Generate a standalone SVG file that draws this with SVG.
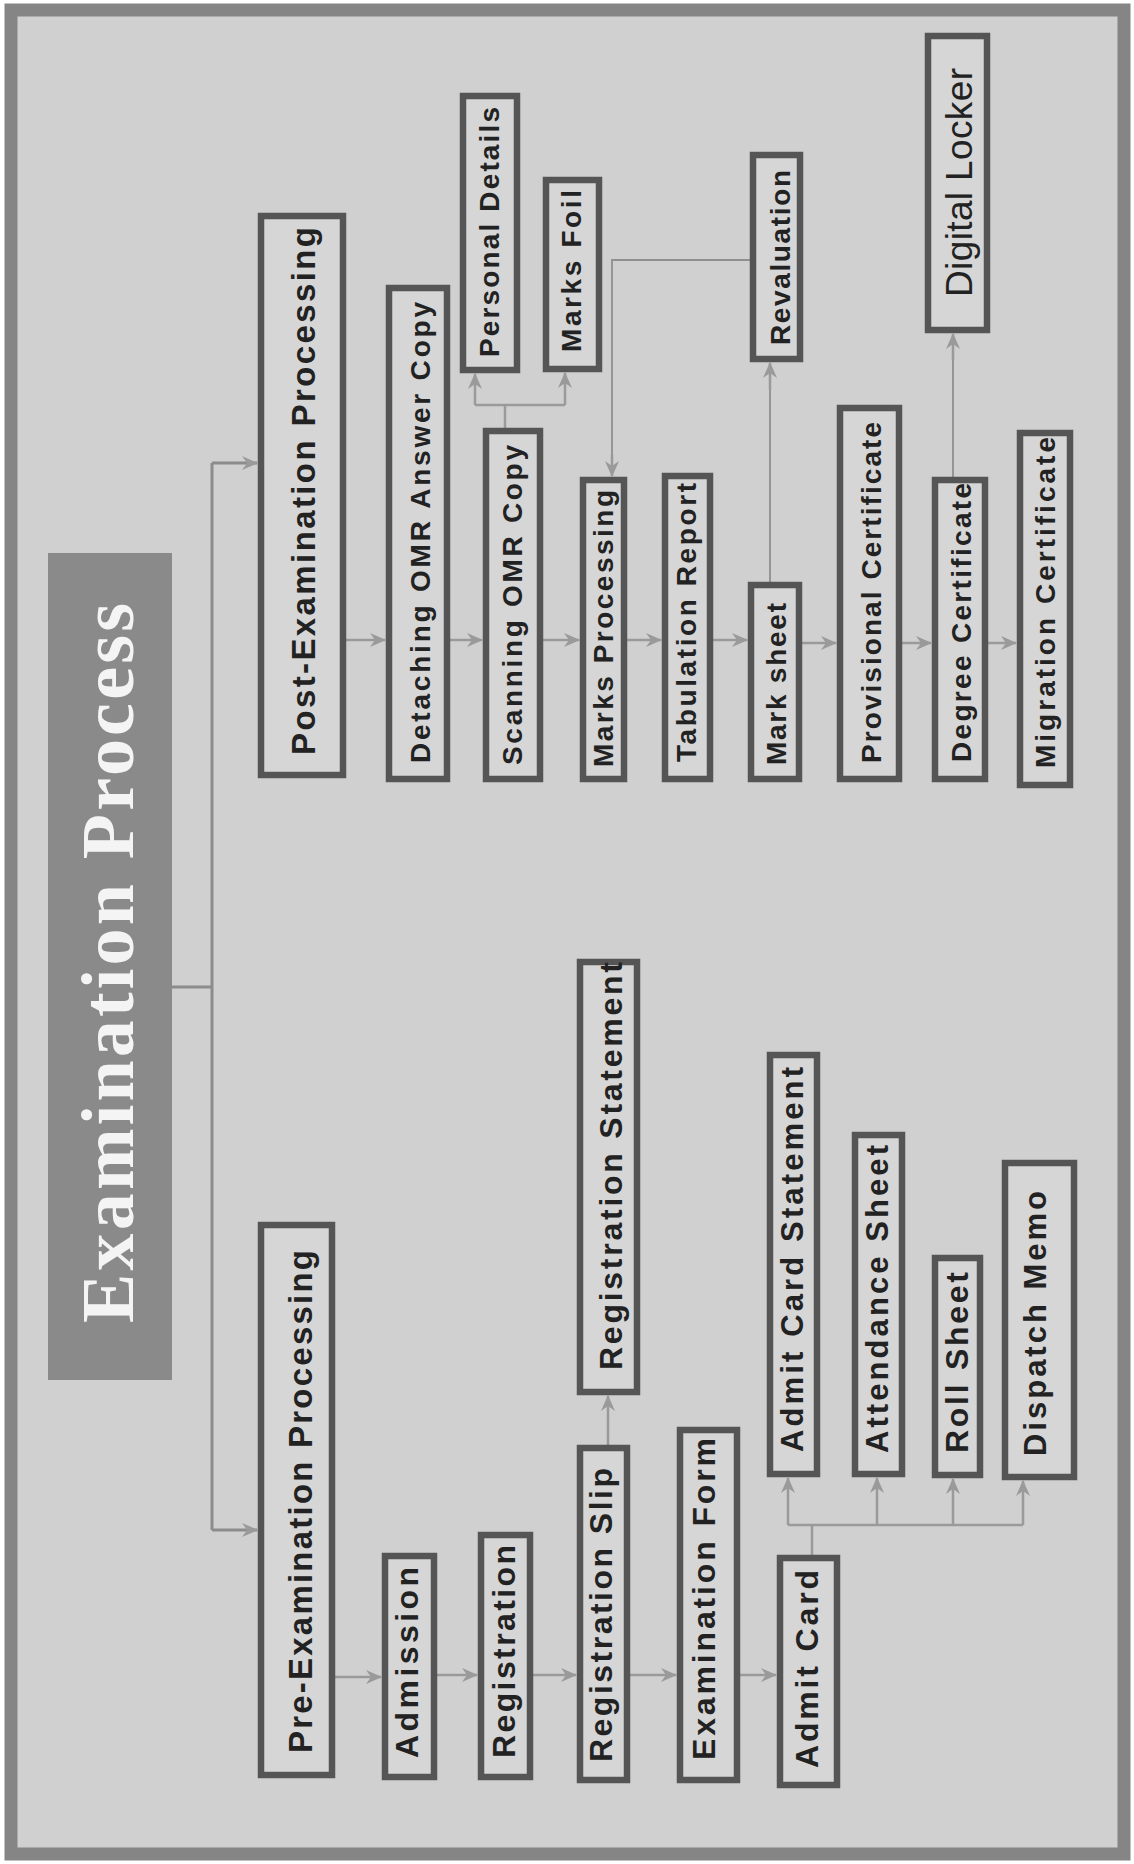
<svg xmlns="http://www.w3.org/2000/svg" width="1134" height="1864" viewBox="0 0 1134 1864">
<style>
.box{fill:#d6d6d6;stroke:#555555;stroke-width:6.5}
.t{font-family:"Liberation Sans",Arial,sans-serif;font-weight:bold;fill:#222222}
.tr{font-family:"Liberation Sans",Arial,sans-serif;font-weight:normal;fill:#222222}
.c{fill:none;stroke:#9a9a9a;stroke-width:2.5}
.a{marker-end:url(#ah)}
.m{fill:none;stroke:#8c8c8c;stroke-width:3}
.thin{fill:none;stroke:#8f8f8f;stroke-width:1.8}
</style>
<defs>
<marker id="ah" markerUnits="userSpaceOnUse" viewBox="0 0 16 14" markerWidth="16" markerHeight="14" refX="15" refY="7" orient="auto">
<path d="M0,0 L16,7 L0,14 L5,7 z" fill="#9a9a9a"/>
</marker>
</defs>
<rect width="1134" height="1864" fill="#ffffff"/>
<rect x="11" y="10" width="1113" height="1844" fill="#d0d0d0" stroke="#858585" stroke-width="13"/>

<g id="title">
<rect x="48" y="553" width="124" height="827" fill="#8a8a8a"/>
<text transform="translate(133,1323) rotate(-90)" font-family="'Liberation Serif',Times,serif" font-weight="bold" font-size="74" fill="#f4f4f4" textLength="720" lengthAdjust="spacing">Examination Process</text>
</g>

<g id="connectors">
<path class="m" d="M172,987 H212 M212,463 V1530"/>
<path class="m a" d="M212,463 H257"/>
<path class="m a" d="M212,1530 H257"/>
<path class="c a" d="M335,1677 H381"/>
<path class="c a" d="M437,1675 H477"/>
<path class="c a" d="M533,1675 H576"/>
<path class="c a" d="M608,1445 V1396"/>
<path class="c a" d="M630,1675 H676"/>
<path class="c a" d="M740,1675 H776"/>
<path class="c" d="M812,1555 V1525 M788,1525 H1023"/>
<path class="c a" d="M788,1525 V1478"/>
<path class="c a" d="M877,1525 V1478"/>
<path class="c a" d="M953,1525 V1479"/>
<path class="c a" d="M1023,1525 V1481"/>
<path class="c a" d="M346,640 H385"/>
<path class="c a" d="M450,640 H482"/>
<path class="c a" d="M543,640 H579"/>
<path class="c" d="M505,428 V405 M475,405 H565"/>
<path class="c a" d="M475,405 V374"/>
<path class="c a" d="M565,405 V373"/>
<path class="c a" d="M627,640 H661"/>
<path class="c a" d="M713,640 H747"/>
<path class="thin" d="M770,582 V372"/>
<path class="c a" d="M770,390 V363"/>
<path class="thin" d="M752,260 H612 V460"/>
<path class="c a" d="M612,455 V476"/>
<path class="c a" d="M802,643 H836"/>
<path class="c a" d="M902,643 H931"/>
<path class="thin" d="M953,477 V345"/>
<path class="c a" d="M953,360 V334"/>
<path class="c a" d="M988,643 H1016"/>
</g>

<g id="n-pre"><rect class="box" x="261" y="1225" width="71" height="550"/><text class="t" transform="translate(312,1753) rotate(-90)" font-size="33" textLength="503" lengthAdjust="spacing">Pre-Examination Processing</text></g>
<g id="n-admission"><rect class="box" x="385" y="1556" width="49" height="221"/><text class="t" transform="translate(418,1758) rotate(-90)" font-size="32" textLength="191" lengthAdjust="spacing">Admission</text></g>
<g id="n-registration"><rect class="box" x="481" y="1535" width="49" height="242"/><text class="t" transform="translate(515,1758) rotate(-90)" font-size="32" textLength="213" lengthAdjust="spacing">Registration</text></g>
<g id="n-regslip"><rect class="box" x="580" y="1448" width="47" height="332"/><text class="t" transform="translate(612,1762) rotate(-90)" font-size="32" textLength="294" lengthAdjust="spacing">Registration Slip</text></g>
<g id="n-regstatement"><rect class="box" x="580" y="962" width="57" height="430"/><text class="t" transform="translate(622,1370) rotate(-90)" font-size="32" textLength="408" lengthAdjust="spacing">Registration Statement</text></g>
<g id="n-examform"><rect class="box" x="680" y="1430" width="57" height="350"/><text class="t" transform="translate(715,1760) rotate(-90)" font-size="32" textLength="322" lengthAdjust="spacing">Examination Form</text></g>
<g id="n-admitcard"><rect class="box" x="780" y="1558" width="57" height="227"/><text class="t" transform="translate(818,1768) rotate(-90)" font-size="32" textLength="198" lengthAdjust="spacing">Admit Card</text></g>
<g id="n-admitstatement"><rect class="box" x="770" y="1055" width="47" height="419"/><text class="t" transform="translate(803,1452) rotate(-90)" font-size="31" textLength="385" lengthAdjust="spacing">Admit Card Statement</text></g>
<g id="n-attendance"><rect class="box" x="855" y="1135" width="47" height="339"/><text class="t" transform="translate(888,1453) rotate(-90)" font-size="31" textLength="308" lengthAdjust="spacing">Attendance Sheet</text></g>
<g id="n-roll"><rect class="box" x="935" y="1258" width="45" height="217"/><text class="t" transform="translate(968,1453) rotate(-90)" font-size="32" textLength="181" lengthAdjust="spacing">Roll Sheet</text></g>
<g id="n-dispatch"><rect class="box" x="1005" y="1163" width="69" height="314"/><text class="t" transform="translate(1046,1456) rotate(-90)" font-size="31" textLength="265" lengthAdjust="spacing">Dispatch Memo</text></g>

<g id="n-post"><rect class="box" x="261" y="216" width="82" height="559"/><text class="t" transform="translate(315,755) rotate(-90)" font-size="33" textLength="528" lengthAdjust="spacing">Post-Examination Processing</text></g>
<g id="n-detaching"><rect class="box" x="389" y="288" width="58" height="491"/><text class="t" transform="translate(430,763) rotate(-90)" font-size="28" textLength="461" lengthAdjust="spacing">Detaching OMR Answer Copy</text></g>
<g id="n-scanning"><rect class="box" x="486" y="431" width="54" height="348"/><text class="t" transform="translate(522,765) rotate(-90)" font-size="28" textLength="320" lengthAdjust="spacing">Scanning OMR Copy</text></g>
<g id="n-personal"><rect class="box" x="463" y="96" width="54" height="274"/><text class="t" transform="translate(499,357) rotate(-90)" font-size="28" textLength="250" lengthAdjust="spacing">Personal Details</text></g>
<g id="n-marksfoil"><rect class="box" x="546" y="180" width="53" height="189"/><text class="t" transform="translate(581,352) rotate(-90)" font-size="28" textLength="162" lengthAdjust="spacing">Marks Foil</text></g>
<g id="n-marksproc"><rect class="box" x="583" y="480" width="41" height="299"/><text class="t" transform="translate(613,767) rotate(-90)" font-size="28" textLength="277" lengthAdjust="spacing">Marks Processing</text></g>
<g id="n-tabulation"><rect class="box" x="665" y="476" width="45" height="303"/><text class="t" transform="translate(696,762) rotate(-90)" font-size="28" textLength="279" lengthAdjust="spacing">Tabulation Report</text></g>
<g id="n-marksheet"><rect class="box" x="751" y="585" width="48" height="194"/><text class="t" transform="translate(786,765) rotate(-90)" font-size="28" textLength="162" lengthAdjust="spacing">Mark sheet</text></g>
<g id="n-revaluation"><rect class="box" x="753" y="155" width="47" height="204"/><text class="t" transform="translate(790,345) rotate(-90)" font-size="28" textLength="175" lengthAdjust="spacing">Revaluation</text></g>
<g id="n-provisional"><rect class="box" x="840" y="408" width="59" height="371"/><text class="t" transform="translate(881,763) rotate(-90)" font-size="28" textLength="341" lengthAdjust="spacing">Provisional Certificate</text></g>
<g id="n-degree"><rect class="box" x="935" y="480" width="50" height="299"/><text class="t" transform="translate(971,762) rotate(-90)" font-size="28" textLength="279" lengthAdjust="spacing">Degree Certificate</text></g>
<g id="n-digital"><rect class="box" x="928" y="36" width="59" height="294"/><text class="tr" transform="translate(972,297) rotate(-90)" font-size="37" textLength="229" lengthAdjust="spacing">Digital Locker</text></g>
<g id="n-migration"><rect class="box" x="1020" y="433" width="50" height="352"/><text class="t" transform="translate(1055,768) rotate(-90)" font-size="28" textLength="331" lengthAdjust="spacing">Migration Certificate</text></g>
</svg>
